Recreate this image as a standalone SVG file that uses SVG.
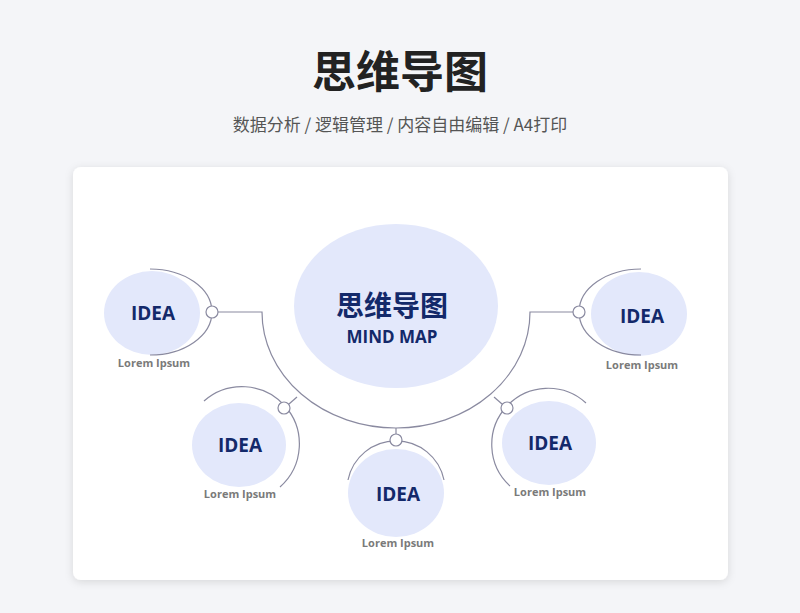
<svg xmlns="http://www.w3.org/2000/svg" width="800" height="613" viewBox="0 0 800 613">
<defs>
<style>
.b{fill:#e3e8fb}
.o{fill:none;stroke:#8a8aa0;stroke-width:1.2}
.d{fill:#fff;stroke:#8a8aa0;stroke-width:1.2}
.i{font-family:"Open Sans","Liberation Sans",sans-serif;font-weight:bold;font-size:19px;fill:#13296a;text-anchor:middle}
.l{font-family:"Open Sans","Liberation Sans",sans-serif;font-weight:bold;font-size:11px;fill:#7a7a7a;text-anchor:middle}
</style>
<filter id="sh" x="-5%" y="-5%" width="110%" height="110%"><feDropShadow dx="0" dy="2" stdDeviation="4" flood-color="#000" flood-opacity="0.12"/></filter>
</defs>
<rect width="800" height="613" fill="#f4f5f8"/>
<text x="400" y="88" text-anchor="middle" font-family="'Noto Sans CJK SC',sans-serif" font-weight="bold" font-size="44" fill="#222">思维导图</text>
<text x="400" y="131" text-anchor="middle" font-family="'Noto Sans CJK SC',sans-serif" font-size="17" fill="#555">数据分析 / 逻辑管理 / 内容自由编辑 / A4打印</text>
<rect x="73" y="167" width="655" height="413" rx="8" fill="#fff" filter="url(#sh)"/>
<g id="connectors">
<path class="o" d="M218 312 H262 A134 116 0 0 0 530 312 H573"/>
<line class="o" x1="396" y1="428" x2="396" y2="434"/>
<line class="o" x1="289" y1="404" x2="297" y2="397"/>
<line class="o" x1="502" y1="404" x2="494" y2="397"/>
</g>
<g id="center">
<ellipse class="b" cx="396" cy="306" rx="102" ry="82"/>
<text x="392" y="316" text-anchor="middle" font-family="'Noto Sans CJK SC',sans-serif" font-weight="bold" font-size="28" fill="#13296a">思维导图</text>
<text x="392" y="343" text-anchor="middle" font-family="'Open Sans','Liberation Sans',sans-serif" font-weight="bold" font-size="17" fill="#13296a">MIND MAP</text>
</g>
<g id="n1">
<ellipse class="b" cx="152" cy="313" rx="48" ry="42"/>
<path class="o" d="M150 269 A62 43 0 0 1 150 355"/>
<circle class="d" cx="212" cy="312" r="6"/>
<text class="i" x="153" y="320">IDEA</text>
<text class="l" x="154" y="367">Lorem Ipsum</text>
</g>
<g id="n2">
<ellipse class="b" cx="639" cy="314" rx="48" ry="42"/>
<path class="o" d="M641 269 A62 43 0 0 0 641 355"/>
<circle class="d" cx="579" cy="312" r="6"/>
<text class="i" x="642" y="323">IDEA</text>
<text class="l" x="642" y="369">Lorem Ipsum</text>
</g>
<g id="n3">
<ellipse class="b" cx="239" cy="445" rx="47" ry="42"/>
<path class="o" d="M204 401 A57 57 0 0 1 280 487"/>
<circle class="d" cx="284" cy="408" r="6"/>
<text class="i" x="240" y="452">IDEA</text>
<text class="l" x="240" y="498">Lorem Ipsum</text>
</g>
<g id="n4">
<ellipse class="b" cx="396" cy="493" rx="48" ry="44"/>
<path class="o" d="M348 480 A49 49 0 0 1 444 480"/>
<circle class="d" cx="396" cy="440" r="6"/>
<text class="i" x="398" y="501">IDEA</text>
<text class="l" x="398" y="547">Lorem Ipsum</text>
</g>
<g id="n5">
<ellipse class="b" cx="549" cy="443" rx="47" ry="42"/>
<path class="o" d="M586 403 A56 56 0 0 0 510 486"/>
<circle class="d" cx="507" cy="408" r="6"/>
<text class="i" x="550" y="450">IDEA</text>
<text class="l" x="550" y="496">Lorem Ipsum</text>
</g>
</svg>
